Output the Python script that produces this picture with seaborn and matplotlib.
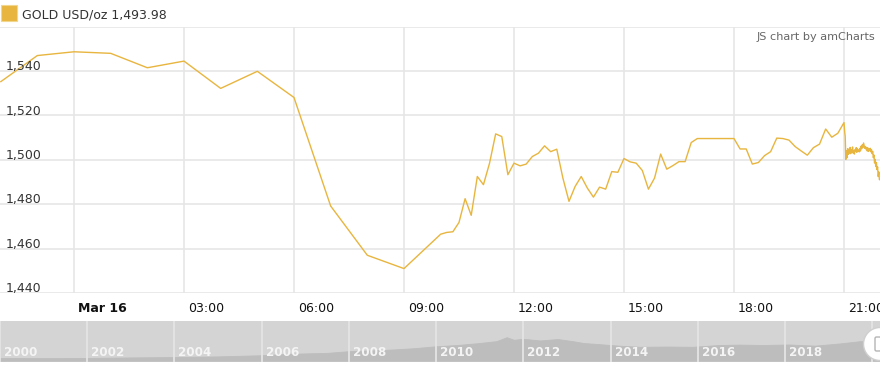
import numpy as np
import pandas as pd
import matplotlib
matplotlib.use("Agg")
import matplotlib.pyplot as plt
import matplotlib.transforms as mtransforms
from matplotlib.patches import Circle, FancyBboxPatch
import seaborn as sns

# ---------------- data ----------------
# hourly quotes, hours relative to Mar 16 00:00
hourly_hours = [-2, -1, 0, 1, 2, 3, 4, 5, 6, 7, 8, 9, 10]
hourly_values = [1535.2, 1547.0, 1548.7, 1548.0, 1541.5, 1544.5, 1532.2,
                 1539.9, 1528.1, 1479.2, 1457.0, 1451.0, 1466.5]

# 10-minute quotes from 10:10 to 21:00
tenmin_values = [1467.3, 1467.6, 1471.8, 1482.5, 1475.0, 1492.5, 1488.8,
                 1498.5, 1511.7, 1510.5, 1493.3, 1498.5, 1497.3, 1498.1,
                 1501.5, 1503.0, 1506.3, 1503.7, 1504.8, 1491.8, 1481.3,
                 1488.0, 1492.5, 1487.3, 1483.2, 1487.7, 1486.8, 1494.7,
                 1494.4, 1500.6, 1499.1, 1498.5, 1495.2, 1486.8, 1491.8,
                 1502.6, 1495.8, 1497.4, 1499.2, 1499.2, 1507.8, 1509.6,
                 1509.6, 1509.6, 1509.6, 1509.6, 1509.6, 1509.6, 1504.9,
                 1504.9, 1498.1, 1498.8, 1501.9, 1503.7, 1509.8, 1509.6,
                 1508.9, 1506.0, 1504.0, 1502.1, 1505.5, 1507.1, 1513.9,
                 1510.2, 1512.0, 1516.8]

# 1-minute quotes from 21:01
minute_values = [1513.0, 1510.5, 1500.2, 1504.0, 1501.0, 1505.0, 1502.5,
                 1504.8, 1503.0, 1505.6, 1502.8, 1504.5, 1503.5, 1505.8,
                 1503.0, 1504.2, 1502.6, 1504.6, 1503.8, 1505.5, 1503.4,
                 1505.0, 1504.0, 1504.4, 1503.6, 1505.2, 1504.0, 1506.2,
                 1505.0, 1506.8, 1505.6, 1507.6, 1506.4, 1505.2, 1506.0,
                 1504.8, 1505.6, 1504.0, 1505.4, 1503.8, 1505.0, 1504.2,
                 1505.2, 1503.6, 1504.6, 1502.8, 1503.8, 1501.0, 1502.2,
                 1498.6, 1500.2, 1497.0, 1498.8, 1495.6, 1496.8, 1492.5,
                 1494.5, 1491.0]

y_ticks = [1440, 1460, 1480, 1500, 1520, 1540]
x_ticks = [0, 3, 6, 9, 12, 15, 18, 21]
x_tick_labels = ["Mar 16", "03:00", "06:00", "09:00", "12:00", "15:00",
                 "18:00", "21:00"]

# long-term history for the scrollbar
hist_years = [2000.0, 2001.0, 2002.0, 2003.0, 2004.0, 2005.0, 2006.0, 2006.5,
              2007.0, 2007.5, 2008.0, 2008.5, 2009.0, 2009.5, 2010.0, 2010.5,
              2011.0, 2011.4, 2011.63, 2011.8, 2012.0, 2012.4, 2012.8,
              2013.14, 2013.4, 2013.7, 2014.2, 2014.68, 2015.3, 2015.9,
              2016.5, 2016.97, 2017.5, 2018.1, 2018.7, 2019.27, 2019.72,
              2020.0, 2020.2]
hist_prices = [300, 290, 300, 340, 370, 420, 510, 600, 650, 690, 820, 880,
               950, 1050, 1200, 1300, 1450, 1600, 1900, 1700, 1780, 1650,
               1760, 1600, 1450, 1380, 1250, 1160, 1180, 1160, 1300, 1330,
               1300, 1340, 1250, 1420, 1590, 1600, 1640]
scroll_year_labels = [2000, 2002, 2004, 2006, 2008, 2010, 2012, 2014, 2016, 2018]

legend_label = "GOLD USD/oz"
last_value = "1,493.98"

# ---------------- assemble ----------------
times = (list(hourly_hours)
         + list(10 + np.arange(1, len(tenmin_values) + 1) / 6.0)
         + list(21 + np.arange(1, len(minute_values) + 1) / 60.0))
values = hourly_values + tenmin_values + minute_values
df = pd.DataFrame({"t": times, "price": values})
hist = pd.DataFrame({"year": hist_years, "price": hist_prices})

sns.set_style("white")
plt.rcParams["font.family"] = ["DejaVu Sans"]

W, H = 880, 369
fig = plt.figure(figsize=(W / 100, H / 100), dpi=100)
fig.patch.set_facecolor("white")

gold = "#e8b53e"
grid_c = "#e6e6e6"
text_c = "#333333"

# main plot area: y pixels 26.7 .. 293
top_px, bot_px = 26.7, 293.0
ax = fig.add_axes([0, (H - bot_px) / H, 1, (bot_px - top_px) / H])
ax.set_facecolor("white")
sns.lineplot(data=df, x="t", y="price", ax=ax, color=gold, linewidth=1.0,
             estimator=None, sort=False)
ax.set_xlim(-2.018, 21.982)
ax.set_ylim(1440, 1560)
ax.set_yticks(y_ticks + [1560])
ax.set_xticks(x_ticks)
ax.grid(True, color=grid_c, linewidth=1.2)
ax.set_axisbelow(True)
ax.tick_params(length=0, labelleft=False, labelbottom=False)
ax.set_xlabel("")
ax.set_ylabel("")
for s in ax.spines.values():
    s.set_visible(False)

# y labels inside the plot
ytr = mtransforms.blended_transform_factory(ax.transAxes, ax.transData)
for v in y_ticks:
    ax.text(6 / W, v + 0.4, f"{v:,}", transform=ytr, ha="left",
            va="baseline", fontsize=9, color=text_c)

# x labels below the plot, left aligned next to grid line
xtr = mtransforms.blended_transform_factory(ax.transData, ax.transAxes)
for t, lab in zip(x_ticks, x_tick_labels):
    off = mtransforms.offset_copy(xtr, fig=fig, x=4, y=0, units="dots")
    ax.text(t, -15.5 / (bot_px - top_px), lab, transform=off, ha="left",
            va="center", fontsize=9, color="#111111",
            fontweight="bold" if lab.startswith("Mar") else "normal",
            clip_on=False)

# legend
fig.patches.append(FancyBboxPatch((0.5 / W, (H - 21) / H), 16.5 / W, 16.5 / H,
                                  boxstyle="square,pad=0",
                                  transform=fig.transFigure,
                                  facecolor=gold, edgecolor="#f1d68e",
                                  linewidth=0.8))
fig.text(22 / W, (H - 14.5) / H, f"{legend_label} {last_value}",
         ha="left", va="center", fontsize=9, color=text_c)
fig.text(875 / W, (H - 36.5) / H, "JS chart by amCharts", ha="right",
         va="center", fontsize=8.1, color="#666666")

# scrollbar: y pixels 321 .. 361.7
s_top, s_bot = 321.0, 361.7
sax = fig.add_axes([0, (H - s_bot) / H, 1, (s_bot - s_top) / H])
sax.set_facecolor("#d4d4d4")
sax.fill_between(hist["year"], 49, hist["price"], color="#bdbdbd",
                 linewidth=0)
sns.lineplot(data=hist, x="year", y="price", ax=sax, color="#bdbdbd",
             linewidth=0.6, estimator=None, sort=False)
sax.set_xlim(2000.0, 2020.18)
sax.set_ylim(49, 3190)
sax.set_xticks([y for y in range(2000, 2021, 2)])
sax.set_yticks([])
sax.grid(True, axis="x", color="#e4e4e4", linewidth=1.3)
sax.set_axisbelow(False)
sax.tick_params(length=0, labelleft=False, labelbottom=False)
sax.set_xlabel("")
sax.set_ylabel("")
for s in sax.spines.values():
    s.set_visible(False)
str_ = mtransforms.blended_transform_factory(sax.transData, sax.transAxes)
for yr in scroll_year_labels:
    off = mtransforms.offset_copy(str_, fig=fig, x=4, y=0, units="dots")
    sax.text(yr, (s_bot - 352) / (s_bot - s_top), str(yr), transform=off,
             ha="left", va="center", fontsize=8.6, color="#f4f4f4",
             fontweight="bold")

# scrollbar grip
fig.patches.append(Circle((880, H - 344), 16.5, transform=None,
                          facecolor="white", edgecolor="#cfcfcf",
                          linewidth=1.0, zorder=10))
fig.patches.append(FancyBboxPatch((875, H - 351), 6, 14,
                                  boxstyle="round,pad=0,rounding_size=1.5",
                                  transform=None, facecolor="white",
                                  edgecolor="#b5b5b5", linewidth=1.0,
                                  zorder=11))

fig.savefig("out.png", dpi=100, facecolor="white")
